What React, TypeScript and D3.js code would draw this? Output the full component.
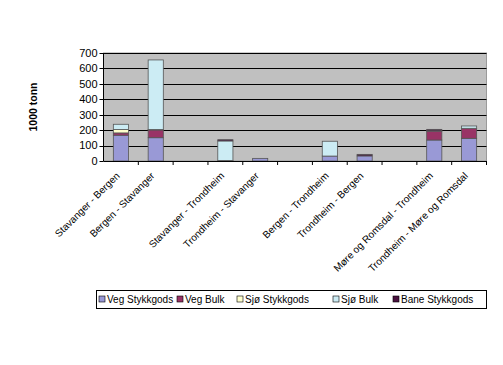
import React from "react";
import * as d3 from "d3";

const categories = [
  "Stavanger - Bergen",
  "Bergen - Stavanger",
  "",
  "Stavanger - Trondheim",
  "Trondheim - Stavanger",
  "",
  "Bergen - Trondheim",
  "Trondheim - Bergen",
  "",
  "Møre og Romsdal - Trondheim",
  "Trondheim - Møre og Romsdal",
];

const seriesNames = ["Veg Stykkgods", "Veg Bulk", "Sjø Stykkgods", "Sjø Bulk", "Bane Stykkgods"];
const vegStykkgods = [167, 151, 0, 3, 17, 0, 32, 33, 0, 136, 147];
const vegBulk = [15, 50, 0, 0, 0, 0, 0, 0, 0, 58, 65];
const sjoStykkgods = [22, 3, 0, 0, 0, 0, 0, 0, 0, 0, 0];
const sjoBulk = [34, 451, 0, 127, 0, 0, 96, 0, 0, 2, 15];
const baneStykkgods = [0, 0, 0, 8, 0, 0, 0, 10, 0, 9, 0];
const yTicks = [0, 100, 200, 300, 400, 500, 600, 700];

const colors = ["#9999d6", "#993366", "#ffffcc", "#ccecf4", "#4a1240"];

const W = 503;
const H = 365;
const plot = { left: 103.5, right: 486.5, top: 53, bottom: 161 };

export default function App() {
  const x = d3
    .scaleBand<number>()
    .domain(categories.map((_, i) => i))
    .range([plot.left, plot.right])
    .paddingInner(0.565)
    .paddingOuter(0.2825);
  const xOuter = d3
    .scaleBand<number>()
    .domain(categories.map((_, i) => i))
    .range([plot.left, plot.right]);
  const y = d3.scaleLinear().domain([0, 700]).range([plot.bottom, plot.top]);

  const rows = categories.map((c, i) => ({
    i,
    [seriesNames[0]]: vegStykkgods[i],
    [seriesNames[1]]: vegBulk[i],
    [seriesNames[2]]: sjoStykkgods[i],
    [seriesNames[3]]: sjoBulk[i],
    [seriesNames[4]]: baneStykkgods[i],
  }));
  const stacked = d3.stack<any>().keys(seriesNames)(rows);

  const font = "'Liberation Sans', Arial, sans-serif";

  const legendItems = [
    { x: 99, name: seriesNames[0] },
    { x: 177, name: seriesNames[1] },
    { x: 237, name: seriesNames[2] },
    { x: 333, name: seriesNames[3] },
    { x: 393, name: seriesNames[4] },
  ];

  return (
    <div style={{ position: "fixed", left: 0, top: 0 }}>
      <svg width={W} height={H} style={{ display: "block", background: "#fff" }} fontFamily={font}>
        <rect
          x={plot.left}
          y={plot.top}
          width={plot.right - plot.left}
          height={plot.bottom - plot.top}
          fill="#c0c0c0"
          stroke="#9a9a9a"
          strokeWidth={1}
        />
        {yTicks.slice(1).map((t) => (
          <line
            key={t}
            x1={plot.left}
            x2={plot.right}
            y1={Math.round(y(t)) + 0.5}
            y2={Math.round(y(t)) + 0.5}
            stroke="#000"
            strokeWidth={1}
          />
        ))}
        {stacked.map((s, si) =>
          s.map((d, i) => {
            const h = y(d[0]) - y(d[1]);
            if (h <= 0) return null;
            return (
              <rect
                key={si + "-" + i}
                x={x(i)!}
                y={y(d[1])}
                width={x.bandwidth()}
                height={h}
                fill={colors[si]}
                stroke="#555"
                strokeWidth={0.8}
              />
            );
          })
        )}
        {/* axes */}
        <line x1={plot.left} x2={plot.left} y1={plot.top} y2={plot.bottom} stroke="#000" />
        <line x1={plot.left} x2={plot.right} y1={plot.bottom + 0.5} y2={plot.bottom + 0.5} stroke="#000" />
        {yTicks.map((t) => (
          <g key={t}>
            <line
              x1={plot.left - 4}
              x2={plot.left}
              y1={Math.round(y(t)) + 0.5}
              y2={Math.round(y(t)) + 0.5}
              stroke="#000"
            />
            <text x={plot.left - 6} y={y(t)} dy="0.35em" textAnchor="end" fontSize={11} fill="#000">
              {t}
            </text>
          </g>
        ))}
        {categories.map((_, i) => (
          <line
            key={"t" + i}
            x1={xOuter(i)! + xOuter.bandwidth()}
            x2={xOuter(i)! + xOuter.bandwidth()}
            y1={plot.bottom}
            y2={plot.bottom + 4}
            stroke="#000"
          />
        ))}
        {categories.map((c, i) => {
          const cx = xOuter(i)! + xOuter.bandwidth() / 2 - 3;
          const cy = plot.bottom + 13;
          return (
            <text
              key={"l" + i}
              transform={`translate(${cx},${cy}) rotate(-45)`}
              textAnchor="end"
              dy="0.35em"
              fontSize={10}
              fill="#000"
            >
              {c}
            </text>
          );
        })}
        <text
          transform={`translate(37,${(plot.top + plot.bottom) / 2}) rotate(-90)`}
          textAnchor="middle"
          fontSize={10.5}
          fontWeight="bold"
          fill="#000"
        >
          1000 tonn
        </text>
        {/* legend */}
        <rect x={96.5} y={290.5} width={390} height={18} fill="#fff" stroke="#000" strokeWidth={1} />
        {legendItems.map((li, i) => (
          <g key={li.name}>
            <rect x={li.x} y={296} width={6} height={6} fill={colors[i]} stroke="#000" strokeWidth={0.6} />
            <text x={li.x + 8} y={299.5} dy="0.35em" fontSize={10} fill="#000">
              {li.name}
            </text>
          </g>
        ))}
      </svg>
    </div>
  );
}
